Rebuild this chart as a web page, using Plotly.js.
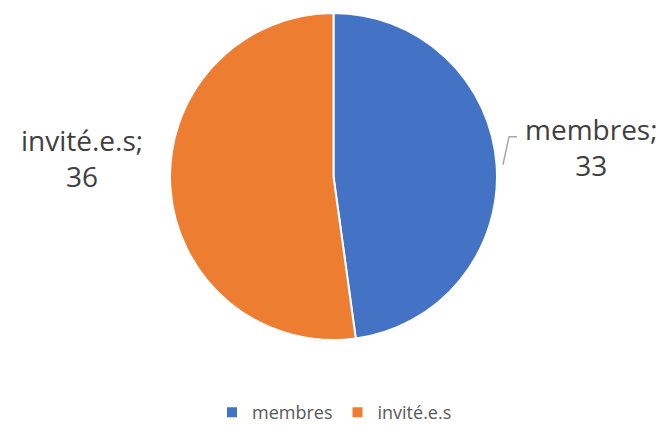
<!DOCTYPE html>
<html><head><meta charset="utf-8">
<script src="https://cdn.plot.ly/plotly-3.0.1.min.js"></script>
<style>html,body{margin:0;padding:0;background:#fff}</style>
</head><body>
<div id="chart" style="width:669px;height:431px"></div>
<script>
const categories = ["membres", "invité.e.s"];
const values = [33, 36];
const colors = ["#4472C4", "#ED7D31"];

const labelPos = [
  {x: 591, y: 147},
  {x: 82, y: 158}
];

const W = 669, H = 431;
const annotations = categories.map((c, i) => ({
  xref: 'paper', yref: 'paper',
  x: labelPos[i].x / W, y: 1 - labelPos[i].y / H,
  xanchor: 'center', yanchor: 'middle',
  text: c + ';<br>' + values[i],
  showarrow: false,
  align: 'center',
  font: {family: 'Open Sans, Liberation Sans, sans-serif', size: 28, color: '#404040'}
}));

const data = [{
  type: 'pie',
  labels: categories,
  values: values,
  sort: false,
  direction: 'clockwise',
  rotation: 0,
  marker: {colors: colors, line: {color: '#ffffff', width: 2}},
  textinfo: 'none',
  hoverinfo: 'label+value',
  domain: {x: [170/W, 497/W], y: [1 - 341/H, 1 - 13/H]}
}];

const layout = {
  width: W, height: H,
  margin: {l: 0, r: 0, t: 0, b: 0},
  paper_bgcolor: '#ffffff',
  showlegend: true,
  legend: {
    orientation: 'h', x: 0.5, xanchor: 'center', y: 1 - 413/H, yanchor: 'middle',
    font: {family: 'Open Sans, Liberation Sans, sans-serif', size: 18, color: '#595959'},
    itemwidth: 30
  },
  annotations: annotations,
  shapes: [{
    type: 'path', xref: 'paper', yref: 'paper',
    path: `M ${503/W} ${1-165/H} L ${509/W} ${1-137/H} L ${517/W} ${1-137/H}`,
    line: {color: '#A6A6A6', width: 1.5}
  }]
};

Plotly.newPlot('chart', data, layout, {displayModeBar: false});
</script>
</body></html>
